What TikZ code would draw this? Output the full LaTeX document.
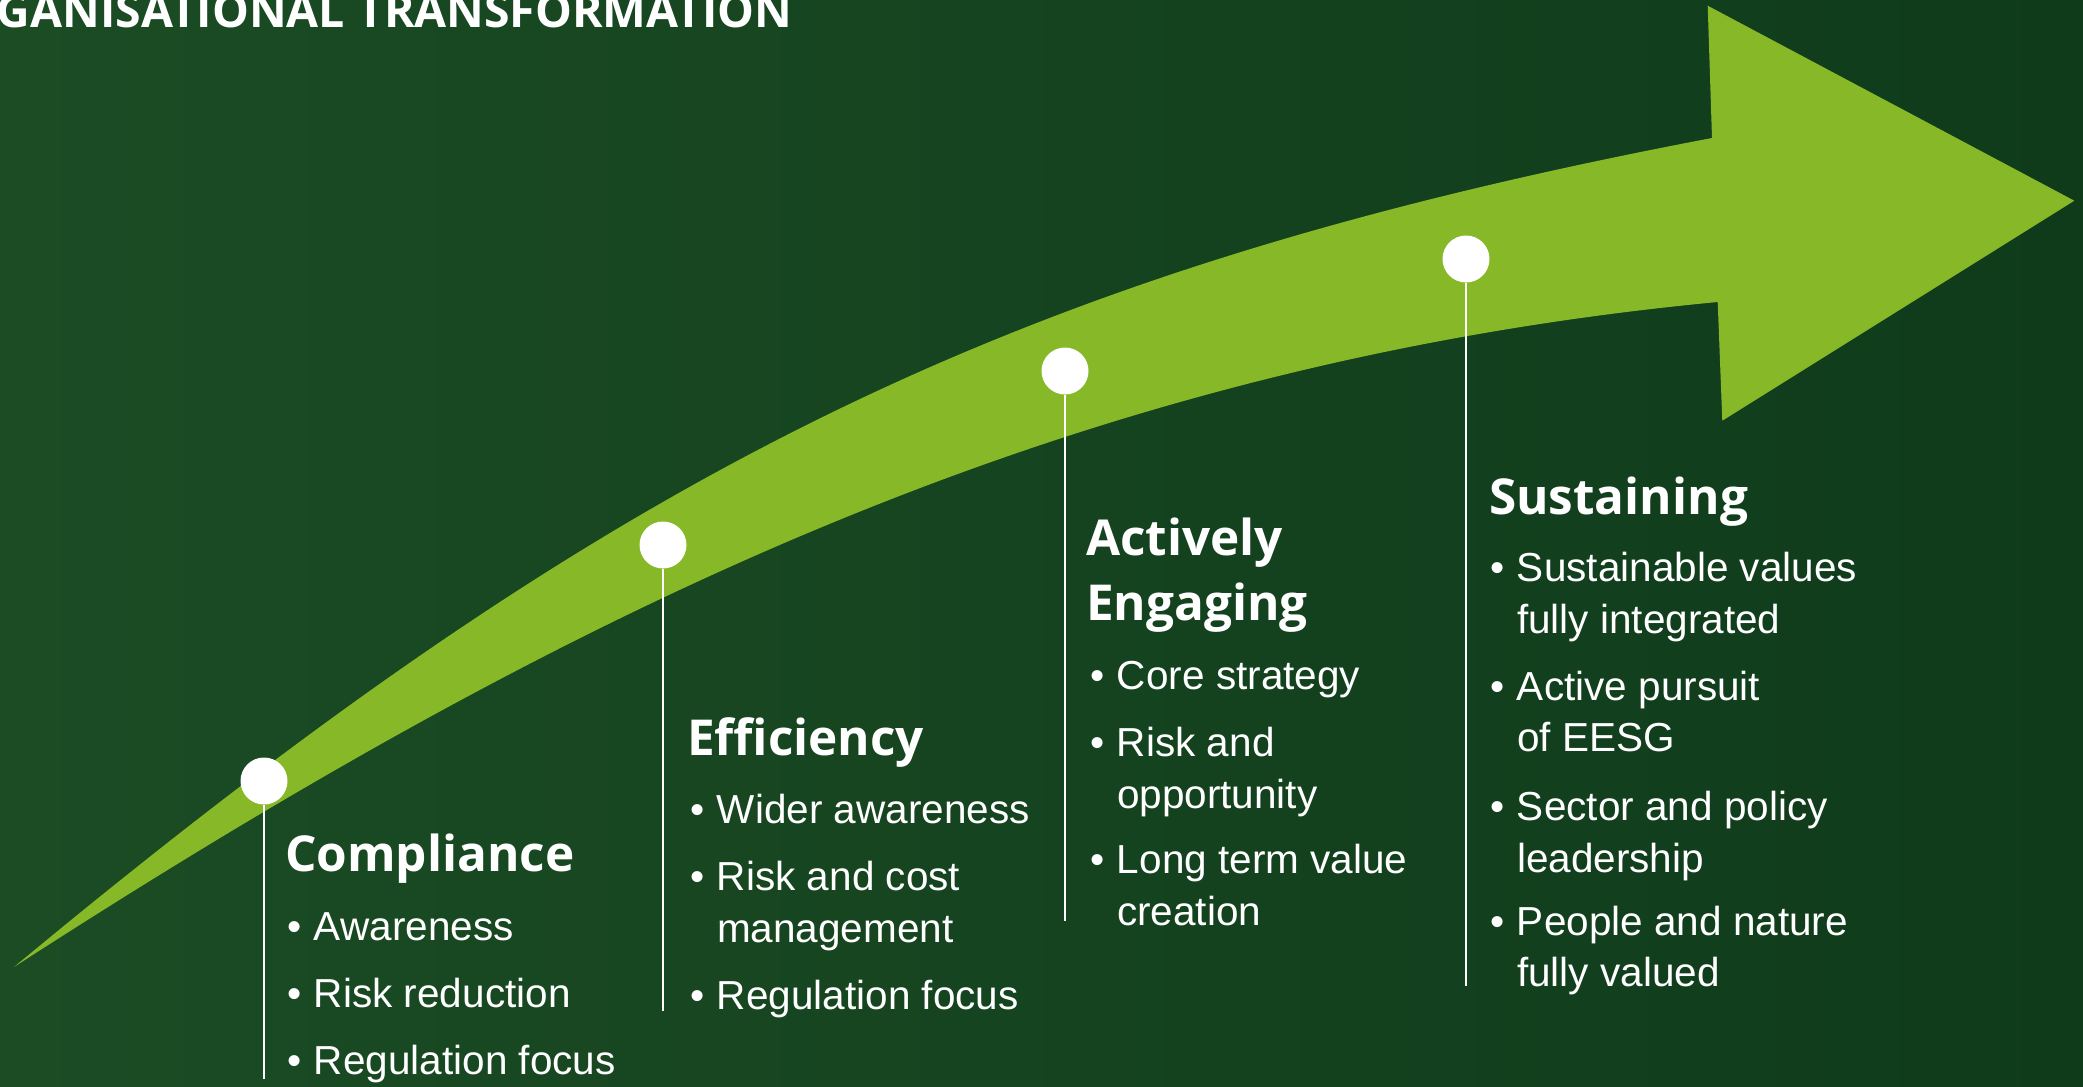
\documentclass[tikz,border=0pt]{standalone}
\usepackage{fontspec}
\setmainfont{Liberation Sans}
\newfontfamily\hdfont{Open Sans}
\definecolor{bgL}{RGB}{27,76,36}
\definecolor{bgR}{RGB}{15,59,27}
\definecolor{arrowgreen}{RGB}{134,184,40}
\newcommand\bul[1]{\makebox[27pt][l]{\textbullet}\parbox[t]{470pt}{\raggedright #1}}
\tikzset{
  hd/.style={anchor=base west, inner sep=0pt, outer sep=0pt, text=white,
    font=\hdfont\bfseries\fontsize{49.5}{62}\selectfont},
  itm/.style={anchor=base west, inner sep=0pt, outer sep=0pt, text=white,
    font=\fontsize{40.5}{51.8}\selectfont},
  ttl/.style={anchor=base west, inner sep=0pt, outer sep=0pt, text=white,
    font=\hdfont\bfseries\fontsize{46.4}{52}\selectfont},
  dot/.style={circle, fill=white, minimum size=47pt, inner sep=0pt, outer sep=0pt},
  vline/.style={draw=white, line width=1.8pt},
}
\begin{document}
\begin{tikzpicture}[x=1pt,y=-1pt]
\useasboundingbox (0,0) rectangle (2083,1087);
\shade[left color=bgL, right color=bgR] (0,0) rectangle (2083,1087);

% arrow
\fill[arrowgreen]
  (14,967) .. controls (614,469) and (1012,271) .. (1712,138)
  -- (1707.7,5.7) -- (2074.3,200.7) -- (1722.3,420.7) -- (1717.7,302)
  .. controls (1067.7,363.75) and (564,611.7) .. (14,967)
  -- cycle;

% title
\node[ttl] (title) at (-3,27.3) {GANISATIONAL TRANSFORMATION};

% milestones
\node[dot] (d1) at (264,781) {};
\node[dot] (d2) at (663,545) {};
\node[dot] (d3) at (1065,371) {};
\node[dot] (d4) at (1466,259) {};
\coordinate (e1) at (264,1079);
\coordinate (e2) at (663,1011);
\coordinate (e3) at (1065,921);
\coordinate (e4) at (1466,986);
\draw[vline] (d1.south) -- (e1);
\draw[vline] (d2.south) -- (e2);
\draw[vline] (d3.south) -- (e3);
\draw[vline] (d4.south) -- (e4);

% Compliance
\node[hd] (h1) at (285,871.7) {Compliance};
\node[itm] (c1) at (287,940.7) {\bul{Awareness}};
\node[itm] (c2) at (287,1007) {\bul{Risk reduction}};
\node[itm] (c3) at (287,1074) {\bul{Regulation focus}};

% Efficiency
\node[hd] (h2) at (687,755) {Efficiency};
\node[itm] (f1) at (690,823.3) {\bul{Wider awareness}};
\node[itm] (f2) at (690,890.5) {\bul{Risk and cost\\management}};
\node[itm] (f3) at (690,1009) {\bul{Regulation focus}};

% Actively Engaging
\node[hd] (h3a) at (1086,555.8) {Actively};
\node[hd] (h3b) at (1086,620.9) {Engaging};
\node[itm] (a1) at (1090,689.7) {\bul{Core strategy}};
\node[itm] (a2) at (1090,756.7) {\bul{Risk and\\opportunity}};
\node[itm] (a3) at (1090,873.4) {\bul{Long term value\\creation}};

% Sustaining
\node[hd] (h4) at (1489,514) {Sustaining};
\node[itm] (s1) at (1490,581.7) {\bul{Sustainable values\\fully integrated}};
\node[itm] (s2) at (1490,700) {\bul{Active pursuit\\of EESG}};
\node[itm] (s3) at (1490,820.3) {\bul{Sector and policy\\leadership}};
\node[itm] (s4) at (1490,935) {\bul{People and nature\\fully valued}};
\end{tikzpicture}
\end{document}
